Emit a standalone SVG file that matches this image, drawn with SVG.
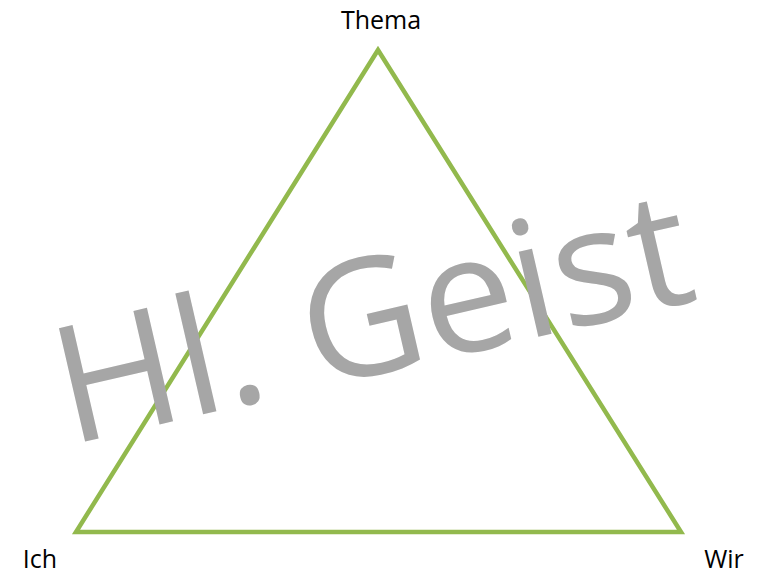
<svg xmlns="http://www.w3.org/2000/svg" width="761" height="576" viewBox="0 0 761 576">
<style>
.lbl{font-family:"Open Sans","Liberation Sans",sans-serif;font-size:25px;fill:#000}
.wm{font-family:"Open Sans","Liberation Sans",sans-serif;font-size:163px;fill:#A6A6A6}
</style>
<rect width="761" height="576" fill="#fff"/>
<g id="connectors">
<polygon points="378,50 76,532 681,532" fill="none" stroke="#92B94D" stroke-width="4.5" stroke-linejoin="miter"/>
</g>
<g id="watermark">
<text class="wm" x="69" y="442" transform="rotate(-13 83 442)" textLength="648" lengthAdjust="spacingAndGlyphs">Hl. Geist</text>
</g>
<g id="thema"><text class="lbl" x="381" y="29" text-anchor="middle">Thema</text></g>
<g id="ich"><text class="lbl" x="40" y="568" text-anchor="middle">Ich</text></g>
<g id="wir"><text class="lbl" x="724" y="568" text-anchor="middle">Wir</text></g>
</svg>
